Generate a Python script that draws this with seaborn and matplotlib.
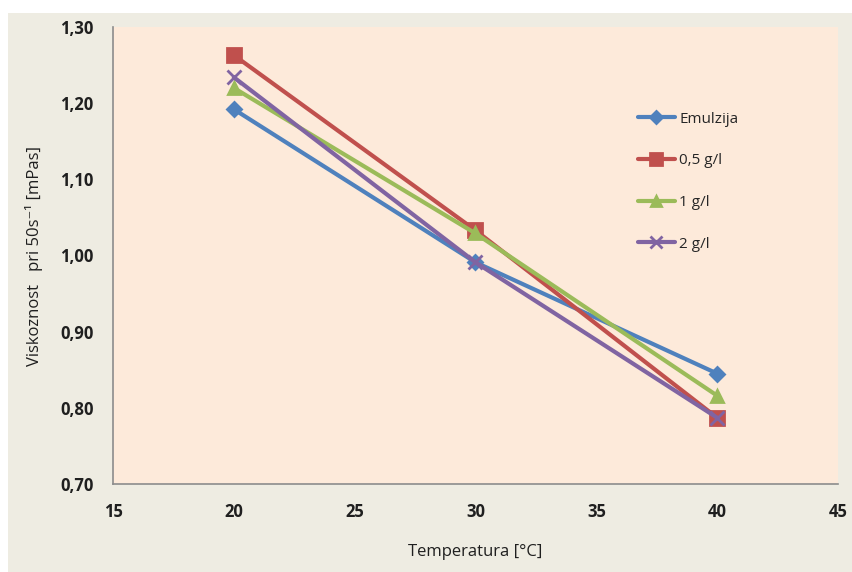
import matplotlib.pyplot as plt
import matplotlib.patches as mpatches
from matplotlib.ticker import FuncFormatter
import numpy as np
import pandas as pd
import seaborn as sns

# data
temperature = [20, 30, 40]
emulzija = [1.192, 0.991, 0.845]
g05 = [1.263, 1.033, 0.787]
g1 = [1.220, 1.029, 0.816]
g2 = [1.234, 0.991, 0.787]
series_names = ["Emulzija", "0,5 g/l", "1 g/l", "2 g/l"]
x_ticks = [15, 20, 25, 30, 35, 40, 45]
y_ticks = [0.70, 0.80, 0.90, 1.00, 1.10, 1.20, 1.30]

df = pd.DataFrame({
    "T": temperature * 4,
    "visc": emulzija + g05 + g1 + g2,
    "serija": sum([[n] * 3 for n in series_names], []),
})

palette = {"Emulzija": "#4F81BD", "0,5 g/l": "#C0504D", "1 g/l": "#9BBB59", "2 g/l": "#8064A2"}
markers = {"Emulzija": "D", "0,5 g/l": "s", "1 g/l": "^", "2 g/l": "x"}
sizes = {"Emulzija": 7, "0,5 g/l": 10, "1 g/l": 9, "2 g/l": 10}

sns.set_theme(style="white")
plt.rcParams["font.family"] = ["Open Sans", "DejaVu Sans"]

fig = plt.figure(figsize=(8.53, 5.72), dpi=100, facecolor="white")
fig.patches.append(mpatches.Rectangle((8 / 853, 0), 1, 559 / 572, transform=fig.transFigure,
                                      facecolor="#EEECE2", edgecolor="none", zorder=-10))
ax = fig.add_axes([113 / 853, 88 / 572, 725 / 853, 457 / 572])
ax.set_facecolor("#FDEADA")

for name in series_names:
    sub = df[df["serija"] == name]
    sns.lineplot(data=sub, x="T", y="visc", ax=ax, color=palette[name], marker=markers[name],
                 markersize=sizes[name], markeredgecolor=palette[name], markeredgewidth=2,
                 linewidth=3, label=name, legend=False)

ax.set_xlim(15, 45)
ax.set_ylim(0.70, 1.30)
ax.set_xticks(x_ticks)
ax.set_yticks(y_ticks)
ax.yaxis.set_major_formatter(FuncFormatter(lambda v, p: f"{v:.2f}".replace(".", ",")))

for s in ["top", "right"]:
    ax.spines[s].set_visible(False)
for s in ["left", "bottom"]:
    ax.spines[s].set_color("#8C8C8C")
    ax.spines[s].set_linewidth(1.2)
ax.tick_params(axis="both", which="major", direction="out", length=6, width=1.2,
               color="#8C8C8C", labelsize=12, pad=8)
for lbl in ax.get_xticklabels() + ax.get_yticklabels():
    lbl.set_fontweight("bold")
    lbl.set_color("#1F1F1F")

ax.set_xlabel("Temperatura [°C]", fontsize=12, color="#1F1F1F", labelpad=16)
ax.set_ylabel("Viskoznost   pri 50s⁻¹ [mPas]", fontsize=12, color="#1F1F1F", labelpad=12)

leg = ax.legend(loc="upper left", bbox_to_anchor=(0.705, 0.845), frameon=False,
                fontsize=11, labelspacing=1.75, handlelength=2.4, handletextpad=0.3,
                markerscale=0.85)

fig.savefig("out.png", dpi=100, facecolor=fig.get_facecolor())
